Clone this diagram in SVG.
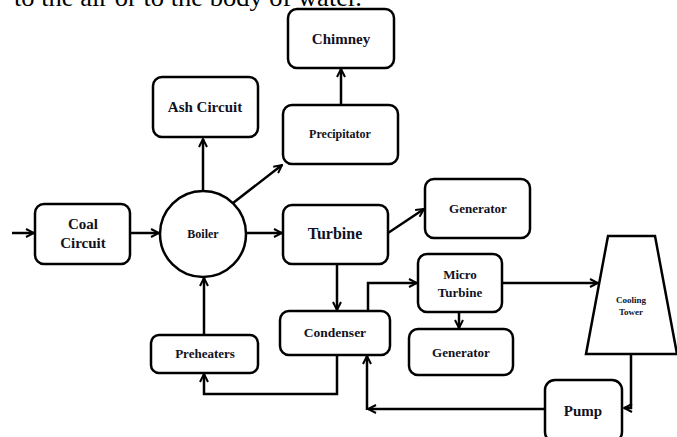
<svg xmlns="http://www.w3.org/2000/svg" width="677" height="437" viewBox="0 0 677 437">
<style>
.box{fill:#fff;stroke:#000;stroke-width:2.5}
.t{font-family:"Liberation Serif","Times New Roman",serif;font-weight:bold;fill:#111122;text-anchor:middle}
.c{fill:none;stroke:#000;stroke-width:2.5}
</style>
<defs>
<marker id="ah" viewBox="0 0 10 10" refX="9" refY="5" markerWidth="4" markerHeight="4" orient="auto" markerUnits="strokeWidth">
<path d="M1,1 L9,5 L1,9" fill="none" stroke="#000" stroke-width="2"/>
</marker>
</defs>
<rect width="677" height="437" fill="#fff"/>
<text x="14" y="6" font-family="Liberation Serif,serif" font-size="26" fill="#000" textLength="348" lengthAdjust="spacingAndGlyphs">to the air or to the body of water.</text>
<g id="connectors">
<line class="c" x1="12" y1="233" x2="34" y2="233" marker-end="url(#ah)"/>
<line class="c" x1="130" y1="233" x2="159" y2="233" marker-end="url(#ah)"/>
<line class="c" x1="245" y1="233" x2="282" y2="233" marker-end="url(#ah)"/>
<line class="c" x1="203" y1="191" x2="203" y2="139" marker-end="url(#ah)"/>
<line class="c" x1="233" y1="203" x2="282" y2="165" marker-end="url(#ah)"/>
<line class="c" x1="341" y1="105" x2="341" y2="69" marker-end="url(#ah)"/>
<line class="c" x1="388" y1="233" x2="424" y2="209" marker-end="url(#ah)"/>
<line class="c" x1="337" y1="264" x2="337" y2="310" marker-end="url(#ah)"/>
<polyline class="c" points="368,311 368,283 417,283" marker-end="url(#ah)"/>
<line class="c" x1="459" y1="312" x2="459" y2="328" marker-end="url(#ah)"/>
<line class="c" x1="502" y1="283" x2="598" y2="283" marker-end="url(#ah)"/>
<polyline class="c" points="631,354 631,408 624,408" marker-end="url(#ah)"/>
<line class="c" x1="545" y1="409" x2="368" y2="409" marker-end="url(#ah)"/>
<line class="c" x1="367" y1="410" x2="367" y2="356" marker-end="url(#ah)"/>
<polyline class="c" points="337,355 337,394 204,394 204,374" marker-end="url(#ah)"/>
<line class="c" x1="204" y1="335" x2="204" y2="278" marker-end="url(#ah)"/>
</g>
<g id="coal"><rect class="box" x="35" y="204" width="95" height="60" rx="9"/><text class="t" x="83" y="229" font-size="15">Coal</text><text class="t" x="83" y="248" font-size="15">Circuit</text></g>
<g id="boiler"><circle class="box" cx="203" cy="234" r="43"/><text class="t" x="203" y="238" font-size="12">Boiler</text></g>
<g id="ash"><rect class="box" x="153" y="77" width="105" height="60" rx="9"/><text class="t" x="205" y="112" font-size="15">Ash Circuit</text></g>
<g id="precipitator"><rect class="box" x="283" y="105" width="115" height="59" rx="9"/><text class="t" x="340" y="138" font-size="12">Precipitator</text></g>
<g id="chimney"><rect class="box" x="288" y="9" width="106" height="59" rx="9"/><text class="t" x="341" y="44" font-size="15">Chimney</text></g>
<g id="turbine"><rect class="box" x="283" y="205" width="105" height="59" rx="9"/><text class="t" x="335" y="239" font-size="16">Turbine</text></g>
<g id="generator1"><rect class="box" x="425" y="179" width="105" height="59" rx="9"/><text class="t" x="478" y="213" font-size="13">Generator</text></g>
<g id="condenser"><rect class="box" x="280" y="311" width="110" height="44" rx="9"/><text class="t" x="335" y="337" font-size="13.5">Condenser</text></g>
<g id="microturbine"><rect class="box" x="418" y="254" width="84" height="58" rx="9"/><text class="t" x="460" y="279" font-size="13">Micro</text><text class="t" x="460" y="297" font-size="13">Turbine</text></g>
<g id="generator2"><rect class="box" x="409" y="329" width="104" height="46" rx="9"/><text class="t" x="461" y="357" font-size="13">Generator</text></g>
<g id="preheaters"><rect class="box" x="151" y="335" width="107" height="38" rx="8"/><text class="t" x="205" y="358" font-size="13">Preheaters</text></g>
<g id="cooling"><polygon class="box" points="608,236 655,236 677,354 586,354"/><text class="t" x="631" y="303" font-size="9">Cooling</text><text class="t" x="631" y="315" font-size="9">Tower</text></g>
<g id="pump"><rect class="box" x="545" y="380" width="77" height="62" rx="10"/><text class="t" x="583" y="416" font-size="15">Pump</text></g>
</svg>
